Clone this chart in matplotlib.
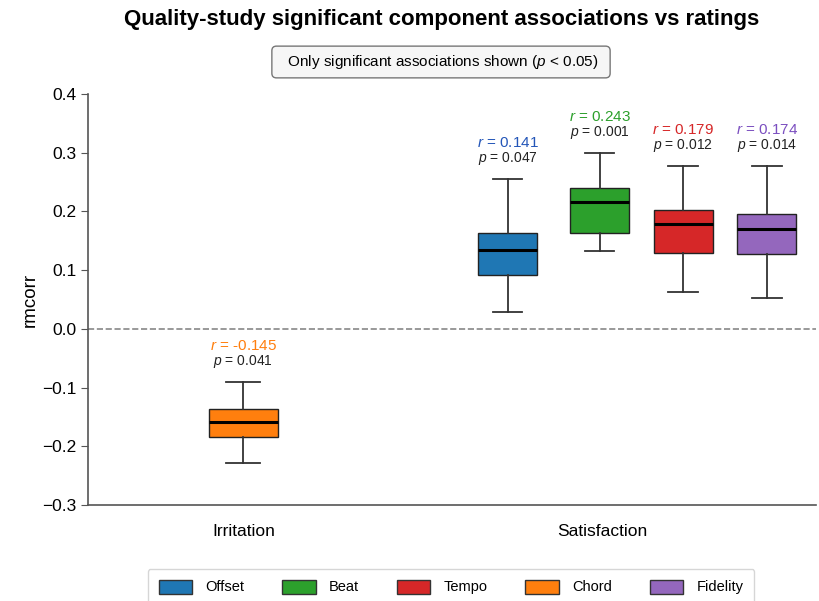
import matplotlib
matplotlib.use("Agg")
import matplotlib.pyplot as plt
from matplotlib.patches import Patch

plt.rcParams['font.family'] = ['Liberation Sans', 'DejaVu Sans']
plt.rcParams['mathtext.fontset'] = 'custom'
plt.rcParams['mathtext.it'] = 'Liberation Sans:italic'
plt.rcParams['mathtext.rm'] = 'Liberation Sans'

# Data
groups = ["Irritation", "Satisfaction"]
components = ["Offset", "Beat", "Tempo", "Chord", "Fidelity"]
colors = {"Offset": "#1f77b4", "Beat": "#2ca02c", "Tempo": "#d62728",
          "Chord": "#ff7f0e", "Fidelity": "#9467bd"}
text_colors = {"Offset": "#2456b8", "Beat": "#2ca02c", "Tempo": "#d62728",
               "Chord": "#ff7f0e", "Fidelity": "#7b4fc0"}

box_group = ["Irritation", "Satisfaction", "Satisfaction", "Satisfaction", "Satisfaction"]
box_comp = ["Chord", "Offset", "Beat", "Tempo", "Fidelity"]
whislo = [-0.228, 0.028, 0.132, 0.063, 0.053]
q1 = [-0.184, 0.092, 0.163, 0.129, 0.127]
med = [-0.158, 0.135, 0.216, 0.179, 0.170]
q3 = [-0.137, 0.163, 0.240, 0.202, 0.196]
whishi = [-0.090, 0.256, 0.300, 0.277, 0.277]
r_vals = [-0.145, 0.141, 0.243, 0.179, 0.174]
p_vals = [0.041, 0.047, 0.001, 0.012, 0.014]

# layout positions (x units): group centre + offset
positions = [0.0, 0.736, 0.992, 1.225, 1.458]
widths = [0.19, 0.165, 0.165, 0.165, 0.165]

fig = plt.figure(figsize=(8.19, 6.01), dpi=100)
ax = fig.add_axes([88 / 819, 1 - 505 / 601, (816 - 88) / 819, (505 - 94) / 601])

stats = []
for i in range(len(box_comp)):
    stats.append(dict(med=med[i], q1=q1[i], q3=q3[i],
                      whislo=whislo[i], whishi=whishi[i], fliers=[]))

bp = ax.bxp(stats, positions=positions, widths=widths, patch_artist=True,
            showfliers=False,
            medianprops=dict(color="black", linewidth=2.2),
            whiskerprops=dict(color="#333333", linewidth=1.3),
            capprops=dict(color="#333333", linewidth=1.3),
            boxprops=dict(edgecolor="#222222", linewidth=1.0))
for patch, comp in zip(bp["boxes"], box_comp):
    patch.set_facecolor(colors[comp])

for i, comp in enumerate(box_comp):
    ax.text(positions[i], whishi[i] + 0.020, f"$p$ = {p_vals[i]:.3f}",
            ha="center", va="bottom", fontsize=10, color="#222222")
    ax.text(positions[i], whishi[i] + 0.049, f"$r$ = {r_vals[i]:.3f}",
            ha="center", va="bottom", fontsize=11, color=text_colors[comp])

ax.axhline(0, color="#888888", linestyle="--", linewidth=1.2, zorder=0)

ax.set_xlim(-0.433, 1.595)
ax.set_ylim(-0.3, 0.4)
ax.set_yticks([-0.3, -0.2, -0.1, 0.0, 0.1, 0.2, 0.3, 0.4])
ax.set_xticks([0, 1])
ax.set_xticklabels(groups, fontsize=12.5)
ax.tick_params(axis="x", length=0, pad=14)
ax.tick_params(axis="y", labelsize=12.5, length=5, color="#555555")
ax.set_ylabel("rmcorr", fontsize=13.5, labelpad=2)
for s in ["top", "right"]:
    ax.spines[s].set_visible(False)
for s in ["left", "bottom"]:
    ax.spines[s].set_color("#555555")
    ax.spines[s].set_linewidth(1.2)

fig.text(442 / 819, 1 - 20 / 601, "Quality-study significant component associations vs ratings",
         ha="center", va="center", fontsize=16, fontweight="bold")
fig.text(441 / 819, 1 - 62 / 601, "  Only significant associations shown ($p$ < 0.05)  ",
         ha="center", va="center", fontsize=11,
         bbox=dict(boxstyle="round,pad=0.45,rounding_size=0.3", facecolor="#f6f6f6",
                   edgecolor="#777777"))

handles = [Patch(facecolor=colors[c], edgecolor="#333333", label=c) for c in components]
fig.legend(handles=handles, loc="center", bbox_to_anchor=(451 / 819, 1 - 587 / 601),
           ncol=5, fontsize=10.5, frameon=True, edgecolor="#cccccc",
           handlelength=2.3, handleheight=1.1, columnspacing=2.6, handletextpad=0.9,
           fancybox=True, borderpad=0.75)

fig.savefig("out.png", dpi=100)
